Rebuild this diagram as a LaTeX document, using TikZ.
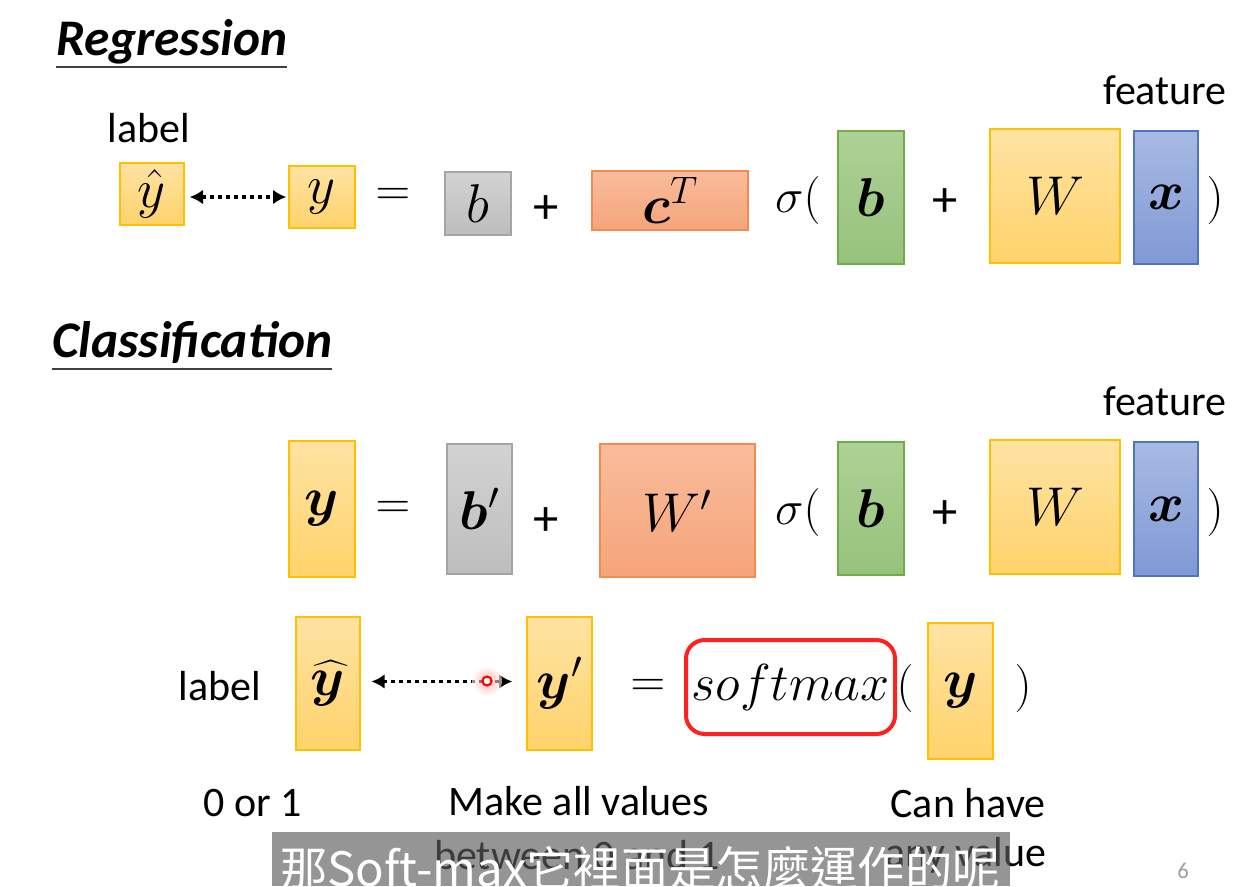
\RequirePackage{fix-cm}
\documentclass[tikz,border=0pt]{standalone}
\usepackage{amsmath}
\usepackage{bm}
\usepackage{fontspec}
\setmainfont{Carlito}
\newfontfamily\cjkfont{Noto Sans CJK TC}
\usetikzlibrary{arrows.meta}
\definecolor{ytop}{HTML}{FFE3A3}
\definecolor{ybot}{HTML}{FFD36B}
\definecolor{ybd}{HTML}{FFC000}
\definecolor{gtop}{HTML}{D3D3D3}
\definecolor{gbot}{HTML}{BDBDBD}
\definecolor{gbd}{HTML}{A5A5A5}
\definecolor{otop}{HTML}{F9BC9C}
\definecolor{obot}{HTML}{F5A47A}
\definecolor{obd}{HTML}{F08C50}
\definecolor{grtop}{HTML}{AED195}
\definecolor{grbot}{HTML}{96C27C}
\definecolor{grbd}{HTML}{70AD47}
\definecolor{btop}{HTML}{A8BAE3}
\definecolor{bbot}{HTML}{8099D5}
\definecolor{bbd}{HTML}{4F75C2}
\definecolor{uline}{HTML}{404040}
\definecolor{subgray}{HTML}{5D5D5D}
\definecolor{smred}{HTML}{FF2020}
\newcommand\mathsz{\fontsize{41}{47}\selectfont}
\newcommand\opsz{\fontsize{36}{43}\selectfont}
\newcommand\smsz{\fontsize{39}{46}\selectfont}
\newcommand\txtsz{\fontsize{31.5}{38}\selectfont}
\newcommand\plussz{\fontsize{38}{44}\selectfont}
\newcommand\headsz{\fontsize{38.5}{46}\selectfont}
\tikzset{
  sz/.style 2 args={minimum width=#1*0.75pt, minimum height=#2*0.75pt},
  bx/.style={inner sep=0pt, line width=1pt, font=\mathsz},
  ybox/.style={bx, draw=ybd, top color=ytop, bottom color=ybot},
  gbox/.style={bx, draw=gbd, top color=gtop, bottom color=gbot},
  obox/.style={bx, draw=obd, top color=otop, bottom color=obot},
  grbox/.style={bx, draw=grbd, top color=grtop, bottom color=grbot},
  bbox/.style={bx, draw=bbd, top color=btop, bottom color=bbot},
  txt/.style={inner sep=0pt, font=\txtsz},
  mth/.style={inner sep=0pt, font=\opsz},
  pls/.style={inner sep=0pt, font=\plussz},
  head/.style={inner sep=0pt, anchor=base west, font=\headsz\bfseries\itshape},
  uln/.style={draw=uline, line width=2pt},
  darr/.style={{Latex[length=10pt,width=11pt]}-{Latex[length=10pt,width=11pt]}, line width=2.4pt, dash pattern=on 3pt off 3pt},
}
\begin{document}
\begin{tikzpicture}[x=0.75pt,y=-0.75pt]
\useasboundingbox[fill=white] (0,0) rectangle (1256,886);

% ---------- Regression ----------
\node[head] (reg) at (56,55) {Regression};
\draw[uln] ([yshift=-9pt]reg.base west) -- ([yshift=-9pt]reg.base east);

\node[txt] (lab1) at (149,128) {label};
\node[txt] (feat1) at (1165,90) {feature};

\node[ybox, sz={64}{62}] (yh1) at (152,194) {$\hat{y}$};
\node[ybox, sz={66}{62}] (y1) at (322,197) {$y$};
\node[mth] (eq1) at (393,197) {$=$};
\node[gbox, sz={66}{63}] (b1) at (478,203.5) {$b$};
\node[pls] (plus1) at (546,210) {+};
\node[obox, sz={156}{59}] (cT) at (670,200.5) {$\bm{c}^T$};
\node[mth] (sig1) at (798,200) {$\sigma($};
\node[grbox, sz={66}{133}] (g1) at (871,197.5) {$\bm{b}$};
\node[pls] (plus2) at (945,203) {+};
\node[ybox, sz={130}{134}] (W1) at (1055,196) {$W$};
\node[bbox, sz={64}{133}] (x1) at (1166,197.5) {$\bm{x}$};
\node[mth] (rp1) at (1215,200) {$)$};

\draw[darr, shorten <=3.75pt, shorten >=1.5pt] (yh1.east |- y1.west) -- (y1.west);

% ---------- Classification ----------
\node[head] (cls) at (52,357) {Classification};
\draw[uln] ([yshift=-9pt]cls.base west) -- ([yshift=-9pt]cls.base east);

\node[txt] (feat2) at (1165,401) {feature};

\node[ybox, sz={66}{136}] (y2) at (322,509) {$\bm{y}$};
\node[mth] (eq2) at (393,510) {$=$};
\node[gbox, sz={65}{130}] (b2) at (479.5,509) {$\bm{b}'$};
\node[pls] (plus3) at (546,522) {+};
\node[obox, sz={155}{133}] (Wp) at (677.5,510.5) {$W'$};
\node[mth] (sig2) at (798,512) {$\sigma($};
\node[grbox, sz={66}{133}] (g2) at (871,508.5) {$\bm{b}$};
\node[pls] (plus4) at (945,515) {+};
\node[ybox, sz={130}{134}] (W2) at (1055,507) {$W$};
\node[bbox, sz={64}{134}] (x2) at (1166,509) {$\bm{x}$};
\node[mth] (rp2) at (1215,512) {$)$};

% ---------- Softmax row ----------
\node[txt] (lab2) at (220,686) {label};
\node[ybox, sz={64}{133}] (yh3) at (328,683.5) {$\bm{\widehat{y}}$};
\node[ybox, sz={65}{133}] (y3p) at (559.5,683.5) {$\bm{y}'$};
\node[mth] (eq3) at (648,688) {$=$};
\node[draw=smred, line width=3pt, rounded corners=14pt, sz={209}{94}, inner sep=0pt, font=\smsz] (sm) at (790.5,687) {$softmax$};
\node[mth] (lp3) at (905,688) {$($};
\node[ybox, sz={65}{136}] (y4) at (960.5,691) {$\bm{y}$};
\node[mth] (rp3) at (1023,688) {$)$};

\draw[darr, shorten <=8pt, shorten >=10.5pt] ([yshift=1.5pt]yh3.east) -- ([yshift=1.5pt]y3p.west);

% laser pointer dot
\node[circle, inner sep=0pt, sz={30}{30}, inner color=red!50, outer color=white, opacity=0.6] (glow) at (487,681) {};
\node[circle, inner sep=0pt, sz={9}{9}, draw=red, line width=1.6pt, fill=white] (dot) at (glow.center) {};

\node[txt] (zero) at (253,803) {0 or 1};
\node[txt] (make1) at (579,801) {Make all values};
\node[txt] (make2) at (577,855) {between 0 and 1};
\node[txt] (can1) at (968,803) {Can have};
\node[txt] (can2) at (966,855) {any value};

\node[inner sep=0pt, text=gray!75, font=\fontsize{17}{20}\selectfont] (page) at (1183,871) {6};

% subtitle overlay
\node[fill=subgray, fill opacity=0.65, sz={738}{54}, inner sep=0pt] (subbox) at (641,859) {};
\node[inner sep=0pt, text=white, font=\cjkfont\fontsize{35.5}{40}\selectfont] (subtxt) at (640,868) {那Soft-max它裡面是怎麼運作的呢};
\end{tikzpicture}
\end{document}
